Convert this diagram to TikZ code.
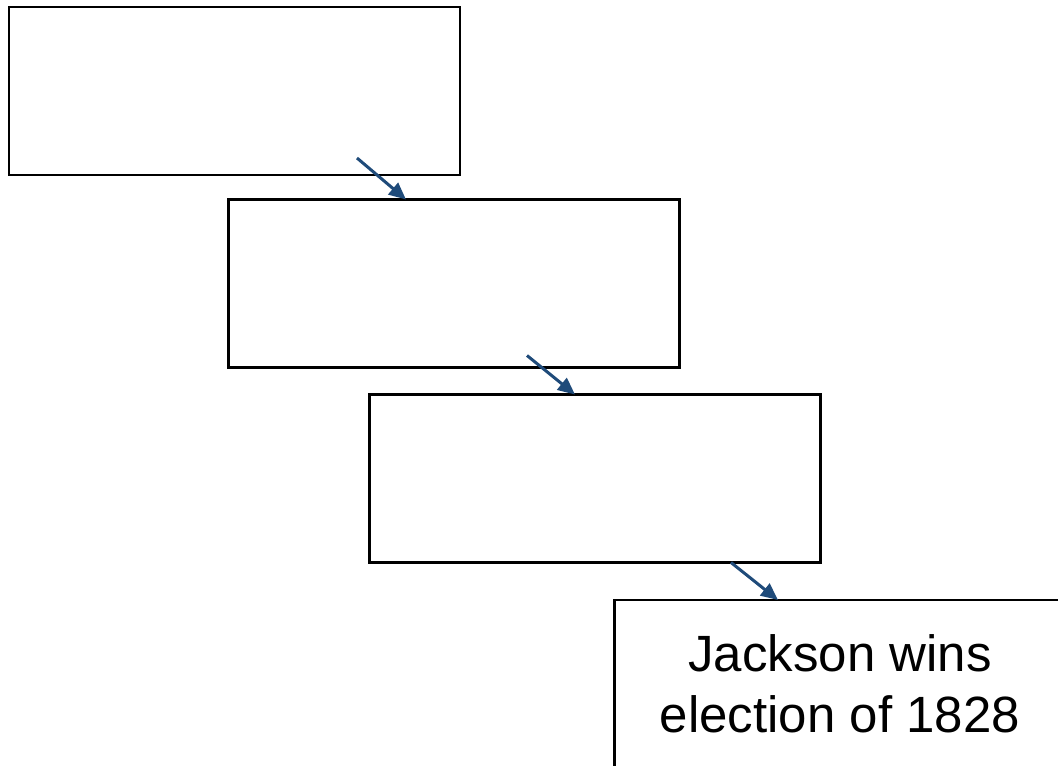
\documentclass[tikz,border=0pt]{standalone}
\usepackage{fontspec}
\setmainfont{Liberation Sans}
\usetikzlibrary{arrows.meta,calc}
\definecolor{arrblue}{HTML}{1F4B7A}
\begin{document}
\begin{tikzpicture}[x=1pt,y=-1pt,
  box/.style={draw=black,line width=2.4pt,fill=white,minimum width=451pt,minimum height=168pt,inner sep=0pt,outer sep=0pt},
  arr/.style={draw=arrblue,line width=3pt,-{Triangle[length=17pt,width=15pt]}},
  lbl/.style={font=\fontsize{51}{61}\selectfont,align=center,inner sep=0pt}]
\clip (0,0) rectangle (1058,766);
\fill[white] (0,0) rectangle (1058,766);
\node[box] (b1) at (234.5,91) {};
\node[box] (b2) at (454,283.5) {};
\node[box] (b3) at (595,478.5) {};
\node[box,lbl] (b4) at (840,684) {Jackson wins\\election of 1828};
\coordinate (s1) at ($(b1.south)+(122.5,-17)$);
\coordinate (s2) at ($(b2.south)+(73,-12)$);
\coordinate (s3) at ($(b3.south)+(136,0)$);
\draw[arr] (s1) -- ($(b2.north)+(-48,0)$);
\draw[arr] (s2) -- ($(b3.north)+(-20,0)$);
\draw[arr] (s3) -- ($(b4.north)+(-62,0)$);
\end{tikzpicture}
\end{document}
